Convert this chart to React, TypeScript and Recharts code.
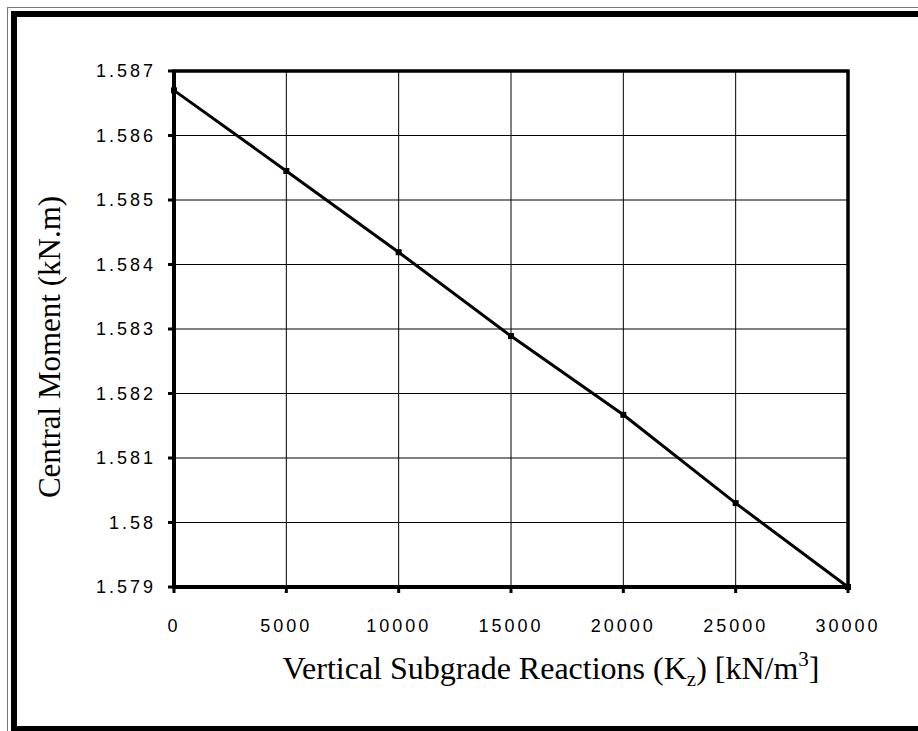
import React from "react";
import { LineChart, Line, XAxis, YAxis, CartesianGrid, ReferenceArea } from "recharts";

const subgradeReactions = [0, 5000, 10000, 15000, 20000, 25000, 30000];
const centralMoments = [1.5867, 1.58545, 1.58419, 1.58289, 1.58167, 1.5803, 1.579];
const xTicks = [0, 5000, 10000, 15000, 20000, 25000, 30000];
const yTicks = [1.579, 1.58, 1.581, 1.582, 1.583, 1.584, 1.585, 1.586, 1.587];

const data = subgradeReactions.map((k, i) => ({ k, m: centralMoments[i] }));

const tickFont = {
  fontFamily: "'Liberation Sans', Arial, sans-serif",
  fontSize: 18,
  fill: "#000",
  letterSpacing: 3,
};

const serif = "'Liberation Serif', 'Times New Roman', serif";

const SquareDot = (props: any) => {
  const { cx, cy } = props;
  if (cx == null || cy == null) return null;
  return <rect x={cx - 3} y={cy - 3} width={6} height={6} fill="#000" />;
};

const XTitle = (props: any) => {
  const vb = props.viewBox || {};
  const cx = (vb.x ?? 174) + (vb.width ?? 674) / 2 + 40;
  return (
    <text x={cx} y={679} textAnchor="middle" fontFamily={serif} fontSize={32} fill="#000">
      Vertical Subgrade Reactions (K
      <tspan fontSize={21} dy={7}>z</tspan>
      <tspan dy={-7}>) [kN/m</tspan>
      <tspan fontSize={21} dy={-13}>3</tspan>
      <tspan dy={13}>]</tspan>
    </text>
  );
};

const YTitle = () => (
  <text
    x={60}
    y={347}
    transform="rotate(-90 60 347)"
    textAnchor="middle"
    fontFamily={serif}
    fontSize={31}
    fill="#000"
  >
    Central Moment (kN.m)
  </text>
);

export default function App() {
  return (
    <div
      style={{
        position: "absolute",
        left: 0,
        top: 0,
        width: 918,
        height: 731,
        overflow: "hidden",
        background: "#fff",
      }}
    >
      <div
        style={{
          position: "absolute",
          left: 7,
          top: 7,
          width: 1000,
          height: 1000,
          border: "1px solid #777",
          boxSizing: "border-box",
        }}
      />
      <div
        style={{
          position: "absolute",
          left: 11,
          top: 11,
          width: 1000,
          height: 721,
          border: "6px solid #000",
          boxSizing: "border-box",
        }}
      />
      <div style={{ position: "absolute", left: 0, top: 0 }}>
        <LineChart
          width={918}
          height={731}
          data={data}
          margin={{ top: 71, right: 70, bottom: 0, left: 0 }}
        >
          <CartesianGrid stroke="#000" strokeWidth={1} horizontalValues={yTicks} verticalValues={xTicks} />
          <XAxis
            dataKey="k"
            type="number"
            domain={[0, 30000]}
            ticks={xTicks}
            height={144}
            axisLine={{ stroke: "#000", strokeWidth: 4 }}
            tickLine={{ stroke: "#000", strokeWidth: 3 }}
            tickSize={6}
            tickMargin={26}
            tick={tickFont}
            label={<XTitle />}
          />
          <YAxis
            type="number"
            domain={[1.579, 1.587]}
            ticks={yTicks}
            width={174}
            axisLine={{ stroke: "#000", strokeWidth: 4 }}
            tickLine={{ stroke: "#000", strokeWidth: 3 }}
            tickSize={6}
            tickMargin={12}
            tick={tickFont}
            tickFormatter={(v: number) => String(v)}
            label={<YTitle />}
          />
          <ReferenceArea
            x1={0}
            x2={30000}
            y1={1.579}
            y2={1.587}
            fill="none"
            stroke="#000"
            strokeWidth={3.5}
          />
          <Line
            type="linear"
            dataKey="m"
            stroke="#000"
            strokeWidth={3}
            dot={<SquareDot />}
            activeDot={false}
            isAnimationActive={false}
          />
        </LineChart>
      </div>
    </div>
  );
}
